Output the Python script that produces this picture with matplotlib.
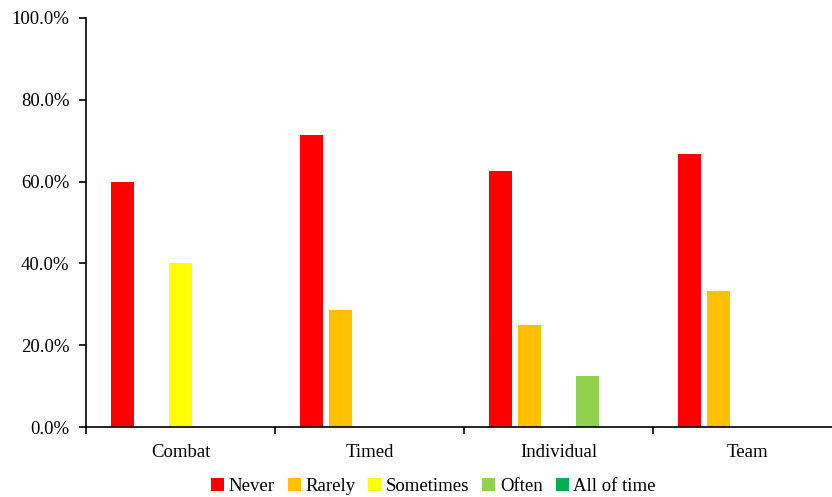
import matplotlib
matplotlib.use("Agg")
import matplotlib.pyplot as plt
import numpy as np
from matplotlib.ticker import FuncFormatter

plt.rcParams['font.family'] = ['Liberation Serif', 'DejaVu Serif']

categories = ["Combat", "Timed", "Individual", "Team"]
series = ["Never", "Rarely", "Sometimes", "Often", "All of time"]
colors = ["#FF0000", "#FFC000", "#FFFF00", "#92D050", "#00B050"]

# percentage of responses per category
never = [60.0, 71.4, 62.5, 66.7]
rarely = [0.0, 28.6, 25.0, 33.3]
sometimes = [40.0, 0.0, 0.0, 0.0]
often = [0.0, 0.0, 12.5, 0.0]
all_of_time = [0.0, 0.0, 0.0, 0.0]
values = [never, rarely, sometimes, often, all_of_time]

fig = plt.figure(figsize=(8.32, 4.97), dpi=100)
ax = fig.add_axes([0.1034, 0.1408, 0.9087, 0.823])

x = np.arange(len(categories))
slot = 0.153
for i, (name, vals, c) in enumerate(zip(series, values, colors)):
    ax.bar(x + (i - 2) * slot, vals, width=0.122, color=c, label=name)

ax.set_xlim(-0.5, len(categories) - 0.5)
ax.set_ylim(0, 100)
ax.set_yticks(np.arange(0, 101, 20))
ax.yaxis.set_major_formatter(FuncFormatter(lambda v, p: f"{v:.1f}%"))

# category labels centred, tick marks between categories
ax.set_xticks(np.arange(-0.5, len(categories), 1.0))
ax.set_xticklabels([])
ax.set_xticks(x, minor=True)
ax.set_xticklabels(categories, minor=True)
ax.tick_params(axis='x', which='minor', length=0, labelsize=13.5, pad=12)
ax.tick_params(axis='x', which='major', length=5, width=1.2, direction='out')
ax.tick_params(axis='y', length=5, width=1.2, labelsize=13.5, pad=7)

for s in ['top', 'right']:
    ax.spines[s].set_visible(False)
for s in ['left', 'bottom']:
    ax.spines[s].set_linewidth(1.2)

fig.legend(*ax.get_legend_handles_labels(), loc='center',
           bbox_to_anchor=(0.521, 0.021), ncol=5, frameon=False,
           fontsize=13.5, handlelength=0.7, handleheight=0.7,
           handletextpad=0.25, columnspacing=0.68)

fig.savefig("out.png", dpi=100)
